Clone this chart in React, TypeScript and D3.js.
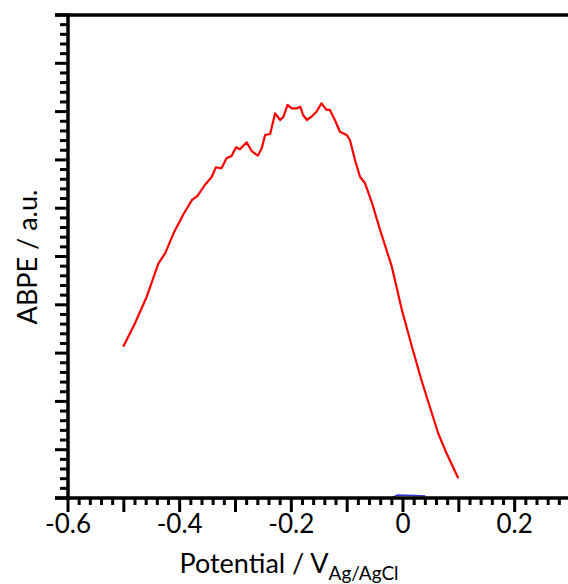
import React from "react";
import * as d3 from "d3";

const redX = [-0.501,-0.48,-0.459,-0.438,-0.426,-0.411,-0.394,-0.378,-0.368,-0.355,-0.343,-0.335,-0.325,-0.316,-0.307,-0.299,-0.292,-0.28,-0.271,-0.26,-0.253,-0.247,-0.238,-0.229,-0.22,-0.214,-0.207,-0.199,-0.19,-0.184,-0.179,-0.172,-0.164,-0.155,-0.146,-0.137,-0.131,-0.122,-0.113,-0.101,-0.095,-0.086,-0.077,-0.068,-0.056,-0.041,-0.02,-0.002,0.016,0.033,0.048,0.063,0.078,0.099];
const redY = [3.133,3.617,4.168,4.859,5.066,5.48,5.859,6.17,6.253,6.48,6.64,6.847,6.826,7.033,7.081,7.261,7.22,7.364,7.184,7.087,7.24,7.516,7.536,7.965,7.826,7.894,8.137,8.068,8.068,8.101,7.93,7.826,7.894,7.998,8.172,8.035,8.035,7.826,7.584,7.516,7.412,6.998,6.652,6.516,6.128,5.549,4.789,3.892,3.133,2.443,1.89,1.34,0.925,0.408];

const blueX = [-0.6, -0.3, -0.02, -0.01, 0.02, 0.04];
const blueY = [0.0, -0.02, 0.0, 0.06, 0.05, 0.04];

const xTickLabels = [-0.6, -0.4, -0.2, 0, 0.2];
const xDomain = [-0.6, 0.3];
const yDomain = [0, 10];

const W = 568, H = 584;
const left = 68, top = 15, bottom = 498;
const right = 570.5;

export default function App() {
  const x = d3.scaleLinear().domain(xDomain).range([left, right]);
  const y = d3.scaleLinear().domain(yDomain).range([bottom, top]);
  const gen = d3.line<[number, number]>().x(d => x(d[0])).y(d => y(d[1]));
  const redPath = gen(redX.map((v, i) => [v, redY[i]] as [number, number]));
  const bluePath = gen(blueX.map((v, i) => [v, blueY[i]] as [number, number]));

  const xMinor = d3.range(-0.6, 0.3001, 0.02).map(v => Math.round(v * 100) / 100);
  const yMinor = d3.range(0, 10.001, 0.2).map(v => Math.round(v * 10) / 10);
  const font = "Lato, 'Open Sans', sans-serif";

  return (
    <svg width={W} height={H} style={{ position: "absolute", left: 0, top: 0, background: "#fff" }}>
      <rect x={0} y={0} width={W} height={H} fill="#fff" />
      <path d={bluePath || ""} fill="none" stroke="#3333cc" strokeWidth={1.5} />
      <path d={redPath || ""} fill="none" stroke="#ff0000" strokeWidth={2.2} strokeLinejoin="round" />
      {xMinor.map(v => {
        const major = Math.abs(Math.round(v * 10) - v * 10) < 1e-6;
        return <line key={"xt" + v} x1={x(v)} x2={x(v)} y1={bottom} y2={bottom + (major ? 14 : 7)} stroke="#000" strokeWidth={3} />;
      })}
      {yMinor.map(v => {
        const major = Math.abs(Math.round(v) - v) < 1e-6;
        return <line key={"yt" + v} x1={left} x2={left - (major ? 13 : 8)} y1={y(v)} y2={y(v)} stroke="#000" strokeWidth={3} />;
      })}
      <line x1={left - 13} x2={right + 2} y1={bottom} y2={bottom} stroke="#000" strokeWidth={3.5} />
      <line x1={left - 13} x2={right + 2} y1={top} y2={top} stroke="#000" strokeWidth={3.5} />
      <line x1={left} x2={left} y1={top - 1.5} y2={bottom + 1.5} stroke="#000" strokeWidth={3.5} />
      <line x1={right} x2={right} y1={top - 1.5} y2={bottom + 1.5} stroke="#000" strokeWidth={3.5} />
      {xTickLabels.map(v => (
        <text key={"xl" + v} x={x(v)} y={533} textAnchor="middle" fontFamily={font} fontSize={26} fill="#000">
          {v === 0 ? "0" : String(v)}
        </text>
      ))}
      <text x={289} y={573} textAnchor="middle" fontFamily={font} fontSize={27} fill="#000">
        Potential / V<tspan dy={7} fontSize={19}>Ag/AgCl</tspan>
      </text>
      <text transform={`translate(37,257) rotate(-90)`} textAnchor="middle" fontFamily={font} fontSize={27} fill="#000">
        ABPE / a.u.
      </text>
    </svg>
  );
}
